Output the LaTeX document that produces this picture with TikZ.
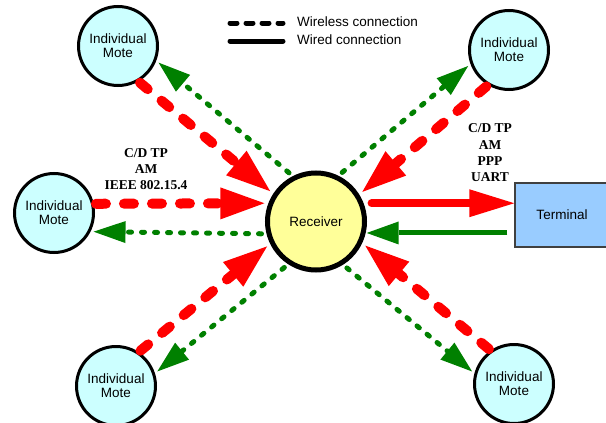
\documentclass[tikz,border=0pt]{standalone}
\usepackage{fontspec}
\setmainfont{Liberation Sans}
\newfontfamily\lblserif{Liberation Serif}
\usetikzlibrary{arrows.meta}
\definecolor{myred}{RGB}{255,0,0}
\definecolor{mygreen}{RGB}{0,128,0}
\definecolor{motefill}{RGB}{204,255,255}
\definecolor{recfill}{RGB}{255,255,153}
\definecolor{termfill}{RGB}{153,204,255}
\begin{document}
\begin{tikzpicture}[x=1pt,y=-1pt,
  mote/.style={circle,draw=black,line width=3pt,fill=motefill,minimum size=79pt,inner sep=0pt,align=center,font=\fontsize{13.5}{14}\selectfont},
  recv/.style={circle,draw=black,line width=5pt,fill=recfill,minimum size=97pt,inner sep=0pt,font=\fontsize{13.5}{14}\selectfont},
  term/.style={rectangle,draw=black!75,line width=1.5pt,fill=termfill,minimum width=94pt,minimum height=64pt,inner sep=0pt,font=\fontsize{13.5}{14}\selectfont},
  wlred/.style={draw=myred,line width=10pt,line cap=round,dash pattern=on 10pt off 18pt,-{Triangle[length=44pt,width=32pt,line width=0pt]}},
  wlgreen/.style={draw=mygreen,line width=5pt,line cap=round,dash pattern=on 3pt off 10pt,-{Triangle[length=32pt,width=22pt,line width=0pt]}},
  wdred/.style={draw=myred,line width=8pt,line cap=round,-{Triangle[length=45pt,width=28pt,line width=0pt]}},
  wdgreen/.style={draw=mygreen,line width=5pt,-{Triangle[length=32pt,width=23pt,line width=0pt]}},
  proto/.style={align=center,font=\lblserif\bfseries\fontsize{13.5}{16.3}\selectfont},
  legtxt/.style={anchor=west,inner sep=0pt,font=\fontsize{13.5}{14}\selectfont},
  legline/.style={draw=black,line width=5pt,line cap=round}
]
\useasboundingbox (0,0) rectangle (606,423);

% nodes
\node[recv] (rc) at (316,221.5) {Receiver};
\node[mote] (tl) at (118,46) {Individual\\Mote};
\node[mote] (tr) at (509,50) {Individual\\Mote};
\node[mote] (lm) at (54,213) {Individual\\Mote};
\node[mote] (bl) at (116,386) {Individual\\Mote};
\node[mote] (br) at (514,384) {Individual\\Mote};
\node[term] (tm) at (562,215) {Terminal};

% legend
\coordinate (la1) at (230,23);
\coordinate (la2) at (283,23);
\coordinate (lb1) at (230,41);
\coordinate (lb2) at (283,41);
\draw[legline,dash pattern=on 7pt off 9pt] (la1) -- (la2);
\draw[legline] (lb1) -- (lb2);
\node[legtxt] (lt1) at (297,22) {Wireless connection};
\node[legtxt] (lt2) at (297,40) {Wired connection};

% protocol labels
\node[proto] (pl) at (146,169) {C/D TP\\AM\\IEEE 802.15.4};
\node[proto] (pr) at (490,153) {C/D TP\\AM\\PPP\\UART};

% wireless: motes -> receiver (red), receiver -> motes (green)
\draw[wlred,shorten <=2pt,shorten >=4pt] (tl.-60) -- (rc.147);
\draw[wlgreen,shorten <=5pt,shorten >=3pt] (rc.117) -- (tl.-21);

\draw[wlred,shorten <=2pt,shorten >=4pt] (lm.13) -- (rc.159);
\draw[wlgreen,shorten <=5pt,shorten >=3pt] (rc.194) -- (lm.-27);

\draw[wlred,shorten <=2pt,shorten >=4pt] (tr.239) -- (rc.32);
\draw[wlgreen,shorten <=5pt,shorten >=3pt] (rc.64) -- (tr.200);

\draw[wlred,shorten <=2pt,shorten >=4pt] (bl.56) -- (rc.206);
\draw[wlgreen,shorten <=5pt,shorten >=3pt] (rc.237) -- (bl.18);

\draw[wlred,shorten <=2pt,shorten >=4pt] (br.125) -- (rc.-25);
\draw[wlgreen,shorten <=5pt,shorten >=3pt] (rc.-58) -- (br.165);

% wired: receiver <-> terminal
\draw[wdred,shorten <=8pt] (rc.21) -- (rc.21 -| tm.west);
\draw[wdgreen,shorten <=7pt,shorten >=1pt] (rc.-13 -| tm.west) -- (rc.-13);
\end{tikzpicture}
\end{document}
